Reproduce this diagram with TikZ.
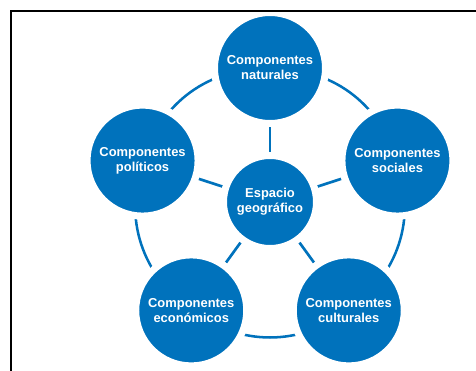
\documentclass[tikz,border=0pt]{standalone}
\usepackage{fontspec}
\setmainfont{Liberation Sans}
\usetikzlibrary{positioning,calc,backgrounds}
\definecolor{geoblue}{RGB}{0,114,188}

\begin{document}
\begin{tikzpicture}[x=0.75pt,y=0.75pt,
      comp/.style = {circle, fill=geoblue, draw=white, line width=5.25pt,
                     minimum size=83.25pt, inner sep=0pt, align=center,
                     text=white, font=\fontsize{9.7}{11.3}\selectfont\bfseries},
      core/.style = {comp, minimum size=69.75pt},
      spoke/.style = {geoblue, line width=2pt},
      ring/.style = {geoblue, line width=1.9pt},
      frame/.style = {black, line width=1.6pt}
    ]
    \useasboundingbox (0,0) rectangle (476,371);

    % Nodes
    \node[core] (espacio) at (270,169) {Espacio\\geográfico};
    \node[comp] (naturales) at ($(espacio)+(90:134)$) {Componentes\\naturales};
    \node[comp] (sociales) at ($(espacio)+(18:134)$) {Componentes\\sociales};
    \node[comp] (culturales) at ($(espacio)+(-54:134)$) {Componentes\\culturales};
    \node[comp] (economicos) at ($(espacio)+(-126:134)$) {Componentes\\económicos};
    \node[comp] (politicos) at ($(espacio)+(162:134)$) {Componentes\\políticos};

    % Frame
    \draw[frame] (11,0) -- (11,360) -- (476,360);

    \begin{pgfonlayer}{background}
    % Ring
    \draw[ring] (naturales.center)  to[bend left=36] (sociales.center);
    \draw[ring] (sociales.center)   to[bend left=36] (culturales.center);
    \draw[ring] (culturales.center) to[bend left=36] (economicos.center);
    \draw[ring] (economicos.center) to[bend left=36] (politicos.center);
    \draw[ring] (politicos.center)  to[bend left=36] (naturales.center);

    % Spokes
    \draw[spoke] (espacio) -- (naturales);
    \draw[spoke] (espacio) -- (sociales);
    \draw[spoke] (espacio) -- (culturales);
    \draw[spoke] (espacio) -- (economicos);
    \draw[spoke] (espacio) -- (politicos);
    \end{pgfonlayer}
  \end{tikzpicture}
\end{document}
